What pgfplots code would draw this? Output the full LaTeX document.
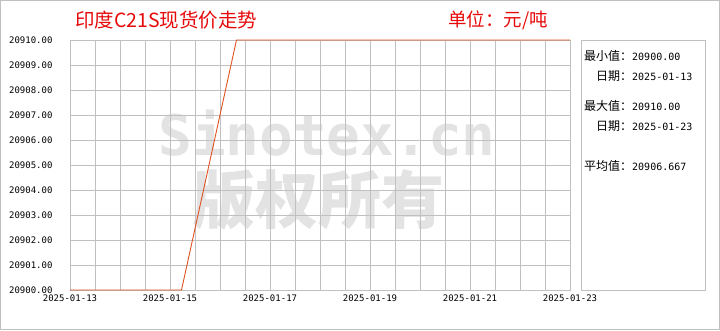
\documentclass[border=0pt]{standalone}
\usepackage{fontspec}
\setmainfont{Noto Sans CJK SC}
\setmonofont{DejaVu Sans Mono}
\newfontfamily\wmfont{DejaVu Sans Mono}
\newfontfamily\cjkbold{Noto Sans CJK SC}
\usepackage{pgfplots}
\pgfplotsset{compat=1.18}
\definecolor{gridgray}{RGB}{192,192,192}
\definecolor{linecol}{RGB}{224,82,32}
\definecolor{titlered}{RGB}{230,10,10}
\definecolor{wm}{RGB}{227,227,227}
\newcommand\num[1]{{\fontsize{10}{10}\selectfont\ttfamily #1}}
\begin{document}
\begin{tikzpicture}
\useasboundingbox (-70pt,-40pt) rectangle (650pt,290pt);
\draw[gridgray, line width=0.8pt] (-69.6pt,-39.6pt) rectangle (649.6pt,289.6pt);
% watermark
\node[wm, anchor=base, inner sep=0pt, font=\fontsize{56}{56}\selectfont\wmfont\bfseries] at (257pt,135pt) {Sinotex.cn};
\node[wm, anchor=center, inner sep=0pt, font=\fontsize{63}{63}\selectfont\cjkbold\bfseries] at (248pt,90pt) {版权所有};
\begin{axis}[
  at={(0,0)}, anchor=south west,
  scale only axis, width=500pt, height=250pt,
  xmin=0, xmax=10, ymin=20900, ymax=20910,
  scaled y ticks=false, scaled x ticks=false,
  xtick={0,2,4,6,8,10},
  xticklabels={2025-01-13,2025-01-15,2025-01-17,2025-01-19,2025-01-21,2025-01-23},
  minor x tick num=3,
  ytick={20900,20901,...,20910},
  yticklabels={20900.00,20901.00,20902.00,20903.00,20904.00,20905.00,20906.00,20907.00,20908.00,20909.00,20910.00},
  grid=both,
  major grid style={gridgray, line width=0.8pt},
  minor grid style={gridgray, line width=0.8pt},
  axis line style={gridgray, line width=0.8pt},
  major tick length=0pt, minor tick length=0pt,
  tick style={draw=none},
  ticklabel style={font=\fontsize{9}{9}\selectfont\ttfamily, black},
  xticklabel style={yshift=-1pt},
  yticklabel style={xshift=-14pt},
  clip=false,
]
\addplot[linecol, line width=0.9pt, mark=none] coordinates {
  (0,20900) (2.23,20900) (3.33,20910) (10,20910)
};
\end{axis}
% titles
\node[titlered, anchor=west, inner sep=0pt, font=\fontsize{19.5}{20}\selectfont] at (5pt,270pt) {印度C21S现货价走势};
\node[titlered, anchor=west, inner sep=0pt, font=\fontsize{18.5}{19}\selectfont] at (378pt,270pt) {单位：元/吨};
% stats box
\draw[gridgray, line width=0.8pt] (511pt,0pt) rectangle (635pt,250pt);
\begin{scope}[every node/.style={anchor=west, inner sep=0pt, font=\fontsize{12}{12}\selectfont}]
\node at (514pt,234pt) {最小值：\num{20900.00}};
\node at (526pt,214pt) {日期：\num{2025-01-13}};
\node at (514pt,184pt) {最大值：\num{20910.00}};
\node at (526pt,164pt) {日期：\num{2025-01-23}};
\node at (514pt,124pt) {平均值：\num{20906.667}};
\end{scope}
\end{tikzpicture}
\end{document}
